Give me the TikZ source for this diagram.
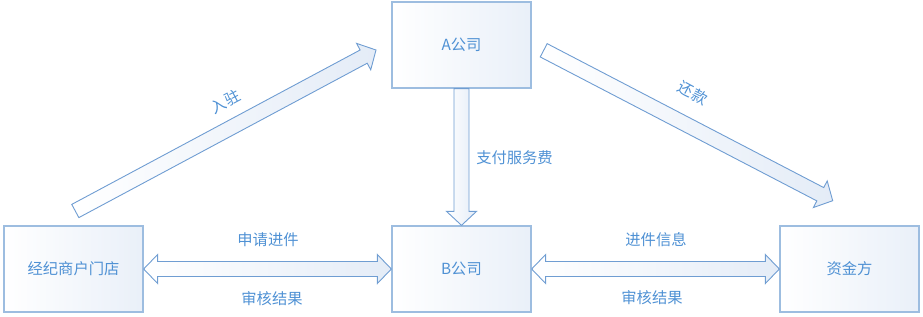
\documentclass[tikz,border=0pt]{standalone}
\usepackage{fontspec}
\setmainfont{Noto Sans CJK SC}
\usetikzlibrary{calc}
\definecolor{boxline}{HTML}{9DBDE0}
\definecolor{arrline}{HTML}{6F9DD2}
\definecolor{txt}{HTML}{4F91D4}
\definecolor{pale}{HTML}{E4ECF7}
\tikzset{
  entity/.style={draw=boxline, line width=1.3pt, left color=white, right color=pale!80,
    minimum width=139pt, minimum height=86pt, inner sep=0pt, text=txt, font=\fontsize{15.3}{17}\selectfont},
  lbl/.style={text=txt, inner sep=1pt, font=\fontsize{15.3}{17}\selectfont},
  arrowstyle/.style={draw=arrline, line width=0.9pt, left color=white, right color=pale, line join=miter},
}
\newcommand\blkarrow[2]{%
  \coordinate (bh) at ($(#2)!14pt!(#1)$);
  \path[arrowstyle] ($(#1)!7.5pt!90:(#2)$) -- ($(bh)!7.5pt!-90:(#1)$) -- ($(bh)!15pt!-90:(#1)$) -- (#2)
    -- ($(bh)!15pt!90:(#1)$) -- ($(bh)!7.5pt!90:(#1)$) -- ($(#1)!7.5pt!-90:(#2)$) -- cycle;
}
\newcommand\dblarrow[2]{%
  \coordinate (ha) at ($(#1)!14pt!(#2)$);
  \coordinate (hb) at ($(#2)!14pt!(#1)$);
  \path[arrowstyle] (#1) -- ($(ha)!14.5pt!90:(#2)$) -- ($(ha)!7.5pt!90:(#2)$) -- ($(hb)!7.5pt!-90:(#1)$)
    -- ($(hb)!14.5pt!-90:(#1)$) -- (#2) -- ($(hb)!14.5pt!90:(#1)$) -- ($(hb)!7.5pt!90:(#1)$)
    -- ($(ha)!7.5pt!-90:(#2)$) -- ($(ha)!14.5pt!-90:(#2)$) -- cycle;
}
\begin{document}
\begin{tikzpicture}[x=1pt,y=-1pt]
\useasboundingbox (0,0) rectangle (923,316);
\node[entity] (shop) at (73.5,269) {经纪商户门店};
\node[entity] (A) at (461.5,45) {A公司};
\node[entity] (B) at (461.5,269) {B公司};
\node[entity] (fund) at (849.5,269) {资金方};

\coordinate (inS) at (75.3,211);
\coordinate (inE) at (376,50);
\coordinate (reS) at (543.7,50.3);
\coordinate (reE) at (832.7,200.7);

\blkarrow{inS}{inE}
\blkarrow{reS}{reE}
\blkarrow{A.south}{B.north}
\dblarrow{shop.east}{B.west}
\dblarrow{B.east}{fund.west}

\node[lbl, rotate=28] (lin) at (225.7,101.7) {入驻};
\node[lbl, rotate=-28] (lre) at (693,93) {还款};
\node[lbl] (lpay) at (514.5,158) {支付服务费};
\node[lbl] (l1) at (268,240) {申请进件};
\node[lbl] (l2) at (272,299) {审核结果};
\node[lbl] (l3) at (656,240) {进件信息};
\node[lbl] (l4) at (652,298) {审核结果};
\end{tikzpicture}
\end{document}
